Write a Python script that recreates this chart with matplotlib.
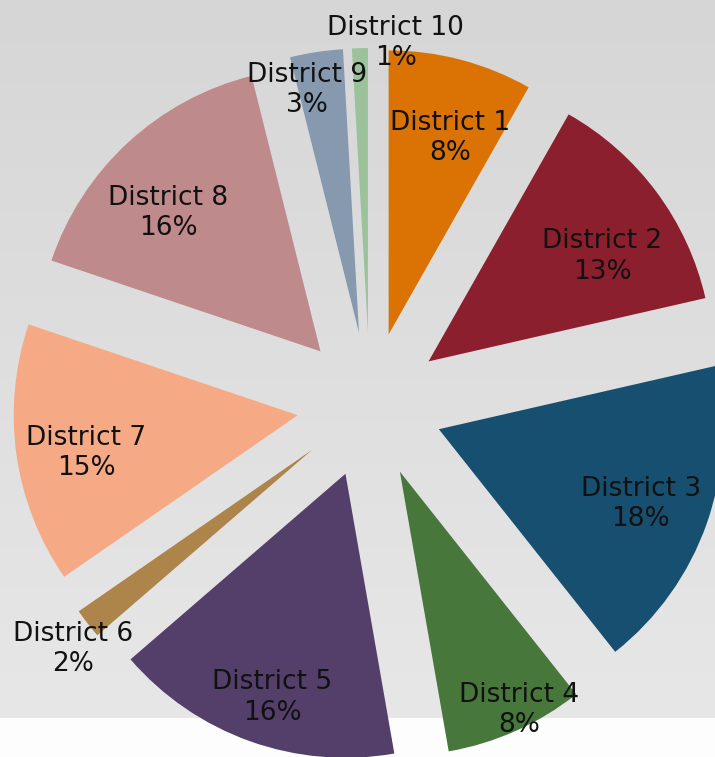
import numpy as np
import matplotlib
matplotlib.use("Agg")
import matplotlib.pyplot as plt
from matplotlib.colors import LinearSegmentedColormap

# dados
districts = ["District 1", "District 2", "District 3", "District 4", "District 5",
             "District 6", "District 7", "District 8", "District 9", "District 10"]
shares = [8.2, 13.2, 17.9, 7.9, 16.4, 1.7, 14.8, 15.9, 3.0, 0.9]
colors = ["#DB7304", "#8B1F2E", "#174F70", "#47773A", "#543E6A",
          "#AD8449", "#F5AA85", "#BF8A8B", "#8699AE", "#9CC29C"]

# posicao dos rotulos (fracao do raio, desvio horario em graus)
label_dist = [0.725, 0.715, 0.758, 0.938, 0.829, 1.096, 0.756, 0.725, 0.874, 1.022]
label_shift = [2.6, 5.5, 0.9, -2.5, -1.5, -2.0, -2.2, -5.0, -3.5, 7.1]

W, H = 715, 757
fig = plt.figure(figsize=(W / 100, H / 100), dpi=100)
fig.patch.set_facecolor("#fdfdfd")
ax = fig.add_axes([0, 0, 1, 1])

# fundo em gradiente
grad = np.linspace(0, 1, 718).reshape(-1, 1)
cmap_bg = LinearSegmentedColormap.from_list("bg", ["#e7e7e7", "#d6d6d6"])
ax.imshow(grad, extent=(0, W, H - 718, H), cmap=cmap_bg, aspect="auto",
          origin="lower", interpolation="nearest", zorder=0)

r = 284
cx, cy = 370, H - 405
# explode em unidades de dados (pixels)
wedges, _ = ax.pie(shares, colors=colors, startangle=90, counterclock=False,
                   radius=r, center=(cx, cy), explode=[73] * len(shares),
                   wedgeprops=dict(linewidth=0, zorder=2))

total = sum(shares)
for w, name, s, d, sh in zip(wedges, districts, shares, label_dist, label_shift):
    ang = np.deg2rad((w.theta1 + w.theta2) / 2 - sh)
    x = w.center[0] + d * r * np.cos(ang)
    y = w.center[1] + d * r * np.sin(ang)
    pct = round(s / total * 100)
    ax.text(x, y, f"{name}\n{pct}%", ha="center", va="center", fontsize=19,
            color="#111111", family="DejaVu Sans", linespacing=1.22, zorder=5)

ax.set_xlim(0, W)
ax.set_ylim(0, H)
ax.set_aspect("equal")
ax.axis("off")

fig.savefig("out.png", dpi=100)
